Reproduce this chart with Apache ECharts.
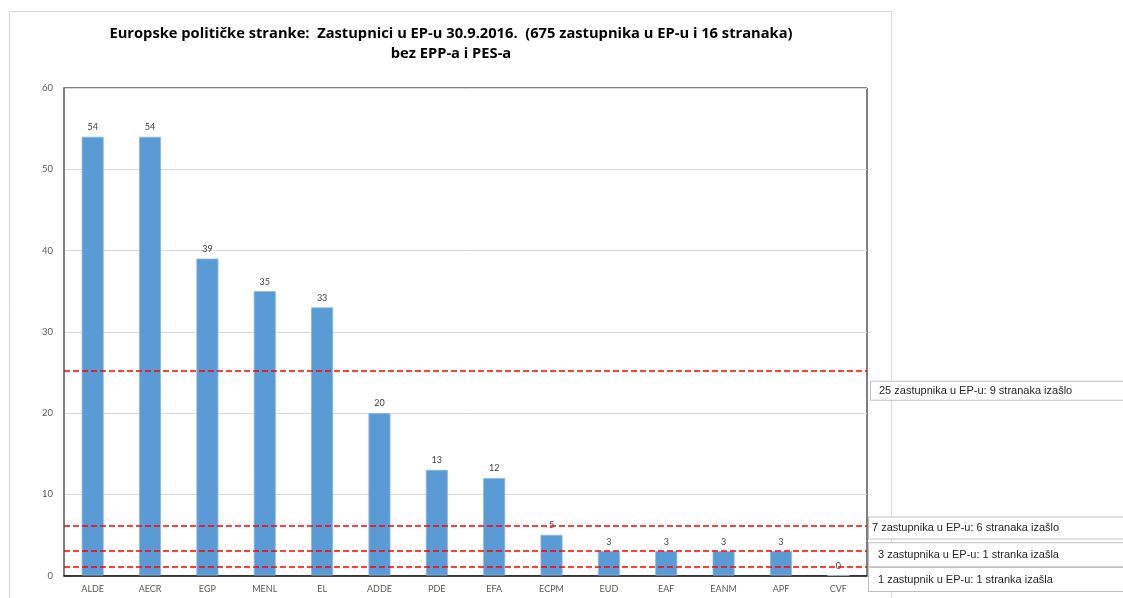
<!DOCTYPE html>
<html>
<head>
<meta charset="utf-8">
<script src="https://cdn.jsdelivr.net/npm/echarts@6/dist/echarts.min.js"></script>
<style>html,body{margin:0;padding:0;background:#fff;}#c{width:1123px;height:598px;}</style>
</head>
<body>
<div id="c"></div>
<script>
const categories = ['ALDE','AECR','EGP','MENL','EL','ADDE','PDE','EFA','ECPM','EUD','EAF','EANM','APF','CVF'];
const seats = [54,54,39,35,33,20,13,12,5,3,3,3,3,0];
const thresholds = [25.2, 6.1, 3.05, 1.1];
const thresholdLabels = [
  '25 zastupnika u EP-u: 9 stranaka izašlo',
  '7 zastupnika u EP-u: 6 stranaka izašlo',
  '3 zastupnika u EP-u: 1 stranka izašla',
  '1 zastupnik u EP-u: 1 stranka izašla'
];
const yTicks = [0,10,20,30,40,50,60];
const titleLines = ['Europske političke stranke:  Zastupnici u EP-u 30.9.2016.  (675 zastupnika u EP-u i 16 stranaka)', 'bez EPP-a i PES-a'];

const labelStyles = [
  {offset:[1,20], padding:[4,60,3,8]},
  {offset:[-1,2], padding:[5,60,5,3]},
  {offset:[-1,4], padding:[6,60,6,9]},
  {offset:[-1,13], padding:[6,60,6,9]}
];

const chart = echarts.init(document.getElementById('c'), null, {renderer:'canvas'});
chart.setOption({
  animation:false,
  backgroundColor:'#fff',
  graphic:[{type:'rect', shape:{x:9.5,y:11.5,width:882,height:600}, style:{fill:'none', stroke:'#d9d9d9', lineWidth:1}, z:-1}],
  title:{
    text: titleLines.join('\n'),
    left: 446, top: 19, textAlign:'center',
    textStyle:{fontFamily:'"Open Sans", Lato, sans-serif', fontWeight:'bold', fontSize:14.7, color:'#000', lineHeight:20}
  },
  grid:{left:64, top:88, right:256, bottom:22.5, show:true, borderColor:'#000', borderWidth:1, backgroundColor:'#fff'},
  xAxis:{
    type:'category', data:categories,
    axisLine:{lineStyle:{color:'#000', width:1.5}},
    axisTick:{show:false},
    axisLabel:{color:'#595959', fontSize:9, fontFamily:'Lato, "Open Sans", sans-serif', margin:9}
  },
  yAxis:{
    type:'value', min:0, max:60, interval:10,
    axisLine:{show:true, lineStyle:{color:'#7f7f7f', width:2}},
    axisTick:{show:false},
    splitLine:{lineStyle:{color:'#d9d9d9', width:1}},
    axisLabel:{color:'#595959', fontSize:9.5, fontFamily:'Lato, "Open Sans", sans-serif', margin:11,
      formatter: v => yTicks.includes(v) ? String(v) : ''}
  },
  series:[{
    type:'bar', data:seats, barWidth:22,
    itemStyle:{color:'#5b9bd5', borderColor:'#8cb8e3', borderWidth:0.8},
    label:{show:true, position:'top', distance:5, color:'#404040', fontSize:9, fontFamily:'Lato, "Open Sans", sans-serif'},
    markLine:{
      symbol:'none', silent:true, animation:false,
      lineStyle:{color:'#ff0000', type:[6,3], width:1.5},
      data: thresholds.map((t,i)=>({
        yAxis:t,
        label:{
          show:true, position:'end', distance:3,
          formatter: thresholdLabels[i],
          color:'#262626', fontSize:11, fontFamily:'"Liberation Sans", Arial, sans-serif',
          backgroundColor:'#fff', borderColor:'#bfbfbf', borderWidth:1,
          width:270, align:'left',
          padding: labelStyles[i].padding, offset: labelStyles[i].offset
        }
      }))
    }
  }]
});
</script>
</body>
</html>
